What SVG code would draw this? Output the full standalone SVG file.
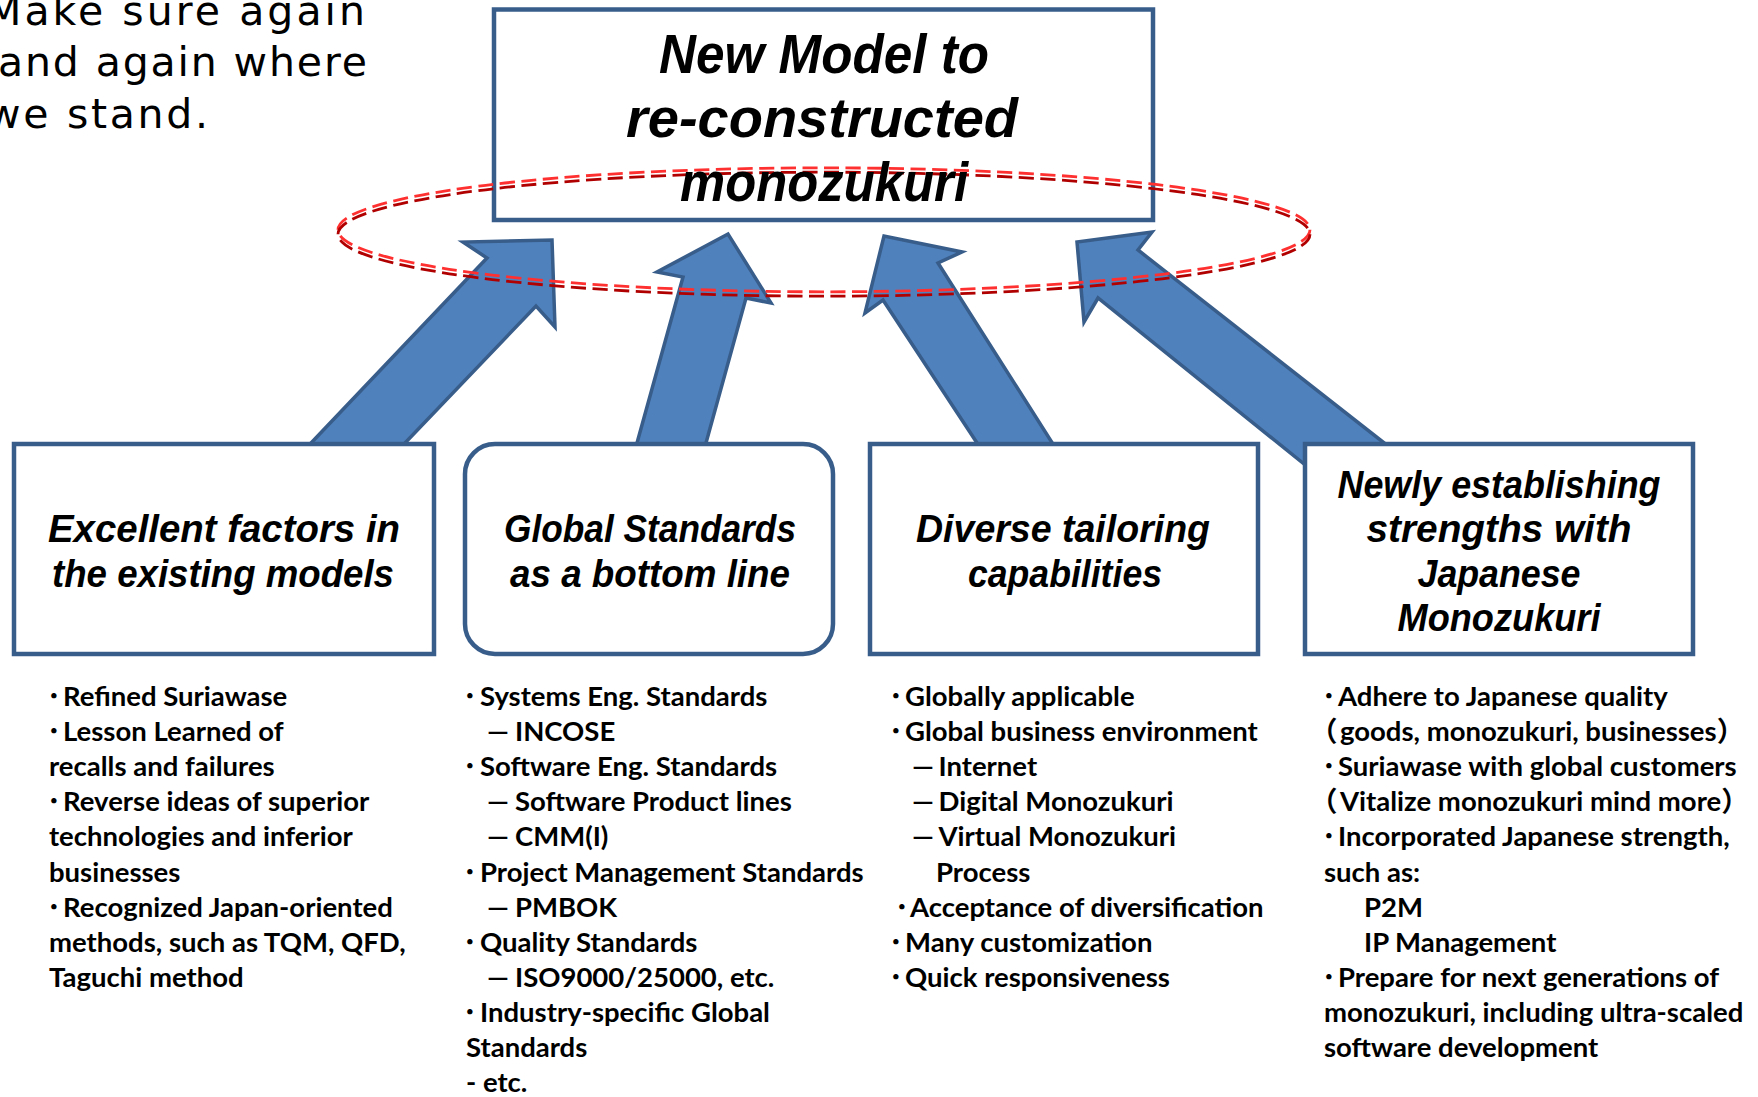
<svg xmlns="http://www.w3.org/2000/svg" width="1758" height="1097" viewBox="0 0 1758 1097">
<defs>
<style>
.box{fill:#fff;stroke:#385D8A;stroke-width:4.5}
.arrow{fill:#4F81BD;stroke:#385D8A;stroke-width:3.5;stroke-linejoin:miter}
.title{font-family:"Liberation Sans",Arial,sans-serif;font-weight:bold;font-style:italic;fill:#000;text-anchor:middle}
.t-main{font-size:56px}
.t-box{font-size:38px}
.body{font-family:Lato,"Noto Sans CJK JP",sans-serif;font-weight:bold;font-size:27.5px;fill:#000}
.dot{font-family:"Noto Sans CJK JP",sans-serif}
.note{font-family:"DejaVu Sans",sans-serif;font-size:41px;fill:#000}
.ring{fill:none;stroke-width:2.8;stroke-dasharray:7 3}
</style>
</defs>
<rect width="1758" height="1097" fill="#fff"/>

<g id="note">
<text class="note" x="-14" y="25" textLength="379" lengthAdjust="spacing">Make sure again</text>
<text class="note" x="-2" y="76" textLength="369" lengthAdjust="spacing">and again where</text>
<text class="note" x="-13" y="128" textLength="221" lengthAdjust="spacing">we stand.</text>
</g>

<g id="connectors">
<polygon class="arrow" points="302.5,452 487,258 463,242 552,240 555,327 536,306 396.4,452"/>
<polygon class="arrow" points="634.5,452 683,277 657,272 728,234 771,303 746,298 703.5,452"/>
<polygon class="arrow" points="983,452 883,300 865,313 884,236 962,252 938,263 1058,452"/>
<polygon class="arrow" points="1340,493 1098,298 1084,322 1077,242 1152,232 1138,250 1420,471"/>
</g>

<g id="node-main">
<rect class="box" x="494" y="9.5" width="659" height="210.5"/>
<g id="ring">
<ellipse class="ring" cx="824" cy="229.8" rx="486" ry="62" pathLength="920" stroke="#ff3030"/>
<ellipse class="ring" cx="824" cy="234.2" rx="486" ry="62" pathLength="920" stroke="#b00000"/>
</g>
<text class="title t-main" x="824" y="73" textLength="330" lengthAdjust="spacingAndGlyphs">New Model to</text>
<text class="title t-main" x="822" y="137" textLength="392" lengthAdjust="spacingAndGlyphs">re-constructed</text>
<text class="title t-main" x="824" y="201" textLength="288" lengthAdjust="spacingAndGlyphs">monozukuri</text>
</g>

<g id="node-existing">
<rect class="box" x="14" y="444" width="420" height="210"/>
<text class="title t-box" x="224" y="542" textLength="352" lengthAdjust="spacingAndGlyphs">Excellent factors in</text>
<text class="title t-box" x="223" y="587" textLength="342" lengthAdjust="spacingAndGlyphs">the existing models</text>
</g>

<g id="node-global">
<rect class="box" x="465" y="444" width="368" height="210" rx="30" ry="30"/>
<text class="title t-box" x="650" y="542" textLength="292" lengthAdjust="spacingAndGlyphs">Global Standards</text>
<text class="title t-box" x="650" y="587" textLength="280" lengthAdjust="spacingAndGlyphs">as a bottom line</text>
</g>

<g id="node-diverse">
<rect class="box" x="870" y="444" width="388" height="210"/>
<text class="title t-box" x="1063" y="542" textLength="294" lengthAdjust="spacingAndGlyphs">Diverse tailoring</text>
<text class="title t-box" x="1065" y="587" textLength="194" lengthAdjust="spacingAndGlyphs">capabilities</text>
</g>

<g id="node-japanese">
<rect class="box" x="1305" y="444" width="388" height="210"/>
<text class="title t-box" x="1499" y="498" textLength="323" lengthAdjust="spacingAndGlyphs">Newly establishing</text>
<text class="title t-box" x="1499" y="542" textLength="265" lengthAdjust="spacingAndGlyphs">strengths with</text>
<text class="title t-box" x="1499" y="587" textLength="163" lengthAdjust="spacingAndGlyphs">Japanese</text>
<text class="title t-box" x="1499" y="631" textLength="203" lengthAdjust="spacingAndGlyphs">Monozukuri</text>
</g>

<g id="list-existing" class="body">
<text y="706"><tspan class="dot" x="47">･</tspan><tspan x="63">Refined Suriawase</tspan></text>
<text y="741"><tspan class="dot" x="47">･</tspan><tspan x="63">Lesson Learned of</tspan></text>
<text x="49" y="776">recalls and failures</text>
<text y="811"><tspan class="dot" x="47">･</tspan><tspan x="63">Reverse ideas of superior</tspan></text>
<text x="49" y="846">technologies and inferior</text>
<text x="49" y="882">businesses</text>
<text y="917"><tspan class="dot" x="47">･</tspan><tspan x="63">Recognized Japan-oriented</tspan></text>
<text x="49" y="952">methods, such as TQM, QFD,</text>
<text x="49" y="987">Taguchi method</text>
</g>

<g id="list-global" class="body">
<text y="706"><tspan class="dot" x="463">･</tspan><tspan x="480">Systems Eng. Standards</tspan></text>
<text y="741"><tspan x="487">—</tspan><tspan x="515">INCOSE</tspan></text>
<text y="776"><tspan class="dot" x="463">･</tspan><tspan x="480">Software Eng. Standards</tspan></text>
<text y="811"><tspan x="487">—</tspan><tspan x="515">Software Product lines</tspan></text>
<text y="846"><tspan x="487">—</tspan><tspan x="515">CMM(I)</tspan></text>
<text y="882"><tspan class="dot" x="463">･</tspan><tspan x="480">Project Management Standards</tspan></text>
<text y="917"><tspan x="487">—</tspan><tspan x="515">PMBOK</tspan></text>
<text y="952"><tspan class="dot" x="463">･</tspan><tspan x="480">Quality Standards</tspan></text>
<text y="987"><tspan x="487">—</tspan><tspan x="515">ISO9000/25000, etc.</tspan></text>
<text y="1022"><tspan class="dot" x="463">･</tspan><tspan x="480">Industry-specific Global</tspan></text>
<text x="466" y="1057">Standards</text>
<text x="466" y="1092">- etc.</text>
</g>

<g id="list-diverse" class="body">
<text y="706"><tspan class="dot" x="889">･</tspan><tspan x="905">Globally applicable</tspan></text>
<text y="741"><tspan class="dot" x="889">･</tspan><tspan x="905">Global business environment</tspan></text>
<text y="776"><tspan x="912">—</tspan><tspan x="938.5">Internet</tspan></text>
<text y="811"><tspan x="912">—</tspan><tspan x="938.5">Digital Monozukuri</tspan></text>
<text y="846"><tspan x="912">—</tspan><tspan x="938.5">Virtual Monozukuri</tspan></text>
<text x="936" y="882">Process</text>
<text y="917"><tspan class="dot" x="895">･</tspan><tspan x="910">Acceptance of diversification</tspan></text>
<text y="952"><tspan class="dot" x="889">･</tspan><tspan x="905">Many customization</tspan></text>
<text y="987"><tspan class="dot" x="889">･</tspan><tspan x="905">Quick responsiveness</tspan></text>
</g>

<g id="list-japanese" class="body">
<text y="706"><tspan class="dot" x="1322">･</tspan><tspan x="1338">Adhere to Japanese quality</tspan></text>
<text y="741"><tspan class="dot" x="1310">（</tspan><tspan x="1340">goods, monozukuri, businesses</tspan><tspan class="dot">）</tspan></text>
<text y="776"><tspan class="dot" x="1322">･</tspan><tspan x="1338">Suriawase with global customers</tspan></text>
<text y="811"><tspan class="dot" x="1310">（</tspan><tspan x="1340">Vitalize monozukuri mind more</tspan><tspan class="dot">）</tspan></text>
<text y="846"><tspan class="dot" x="1322">･</tspan><tspan x="1338">Incorporated Japanese strength,</tspan></text>
<text x="1324" y="882">such as:</text>
<text x="1364" y="917">P2M</text>
<text x="1364" y="952">IP Management</text>
<text y="987"><tspan class="dot" x="1322">･</tspan><tspan x="1338">Prepare for next generations of</tspan></text>
<text x="1324" y="1022">monozukuri, including ultra-scaled</text>
<text x="1324" y="1057">software development</text>
</g>
</svg>
